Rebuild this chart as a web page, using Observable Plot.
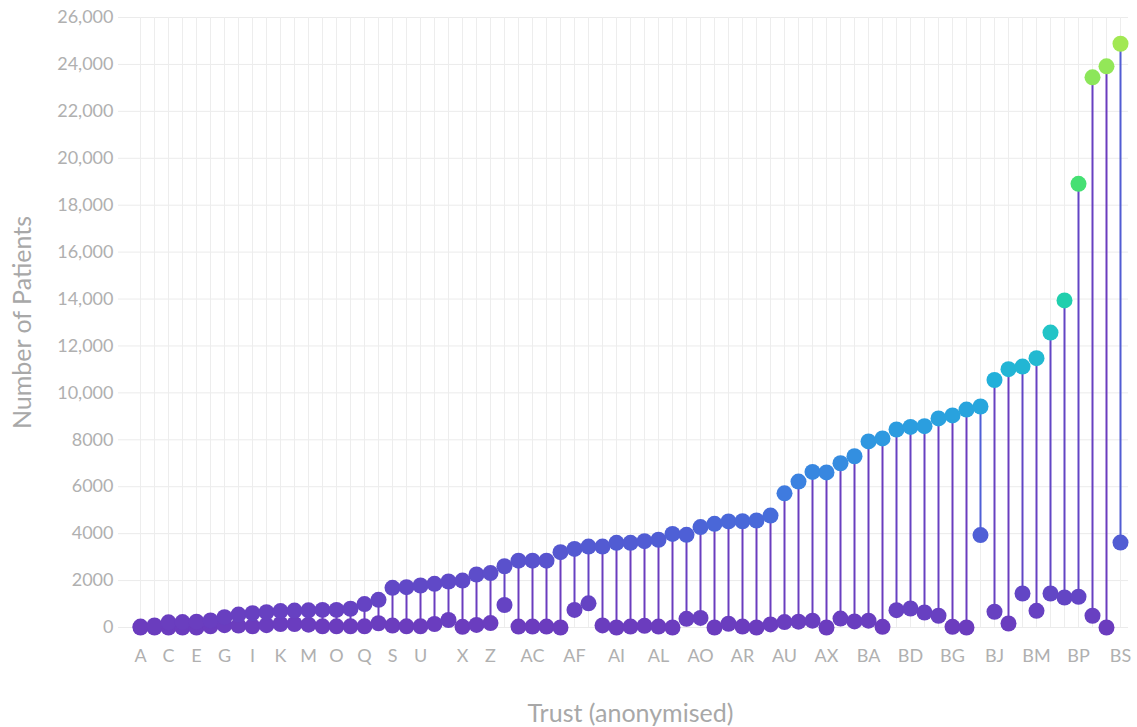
<!DOCTYPE html>
<html>
<head>
<meta charset="utf-8">
<script src="https://cdn.jsdelivr.net/npm/d3@7"></script>
<script src="https://cdn.jsdelivr.net/npm/@observablehq/plot@0.6"></script>
<style>
  html, body { margin: 0; padding: 0; background: #fff; }
  #chart { width: 1137px; height: 727px; }
  svg { font-family: "Lato", "Open Sans", sans-serif; }
</style>
</head>
<body>
<div id="chart"></div>
<script>
const trusts = ["A","B","C","D","E","F","G","H","I","J","K","L","M","N","O","P","Q","R","S","T","U","V","W","X","Y","Z",
  "AA","AB","AC","AD","AE","AF","AG","AH","AI","AJ","AK","AL","AM","AN","AO","AP","AQ","AR","AS","AT","AU","AV","AW","AX","AY","AZ",
  "BA","BB","BC","BD","BE","BF","BG","BH","BI","BJ","BK","BL","BM","BN","BO","BP","BQ","BR","BS"];

const highValues = [40, 90, 220, 230, 250, 300, 440, 550, 610, 650, 700, 720, 730, 750, 750, 800, 1000, 1180, 1690, 1720, 1790, 1860, 1960, 2000, 2260, 2320,
  2610, 2850, 2850, 2850, 3210, 3350, 3450, 3450, 3610, 3610, 3680, 3740, 3990, 3950, 4280, 4420, 4520, 4530, 4560, 4770, 5720, 6220, 6630, 6610, 7000, 7300,
  7930, 8060, 8440, 8550, 8580, 8910, 9040, 9290, 9420, 10550, 11010, 11120, 11480, 12570, 13940, 18910, 23450, 23920, 24880];

const lowValues = [0, 0, 0, 0, 0, 50, 100, 80, 50, 100, 150, 150, 120, 50, 50, 50, 50, 180, 80, 50, 50, 150, 320, 30, 110, 190,
  960, 40, 40, 40, 0, 750, 1030, 90, 0, 40, 70, 40, 0, 370, 410, 0, 160, 40, 0, 130, 230, 250, 290, 0, 380, 260,
  290, 30, 740, 810, 640, 500, 30, 0, 3940, 670, 170, 1450, 710, 1450, 1280, 1310, 500, 0, 3620];

const xTickLabels = ["A","C","E","G","I","K","M","O","Q","S","U","X","Z","AC","AF","AI","AL","AO","AR","AU","AX","BA","BD","BG","BJ","BM","BP","BS"];
const yTicks = [0, 2000, 4000, 6000, 8000, 10000, 12000, 14000, 16000, 18000, 20000, 22000, 24000, 26000];

const colorDomain = [0, 2000, 4000, 6000, 8000, 10500, 12500, 14000, 19000, 25000];
const colorRange = ["#6b3cbe", "#5f4ac8", "#4e60d6", "#3d7fe0", "#2e98e0", "#22b0da", "#22c3c8", "#20d0ac", "#46e072", "#a4e852"];

const rows = trusts.map((t, i) => ({trust: t, high: highValues[i], low: lowValues[i]}));

const fmt = d => d >= 10000 ? d3.format(",")(d) : String(d);
const grey = "#a8a8a8";

const chart = Plot.plot({
  width: 1137,
  height: 727,
  marginLeft: 118,
  marginRight: 9,
  marginTop: 17,
  marginBottom: 100,
  style: {fontFamily: "Lato, 'Open Sans', sans-serif", background: "#fff"},
  x: {type: "point", domain: trusts, padding: 1.071, align: 0.733, axis: null},
  y: {domain: [0, 26000], axis: null},
  color: {type: "linear", domain: colorDomain, range: colorRange, interpolate: "rgb"},
  marks: [
    Plot.ruleY(yTicks, {stroke: "#ebebeb", strokeWidth: 1}),
    Plot.ruleX(trusts, {stroke: "#ededed", strokeWidth: 1}),
    Plot.axisY({ticks: yTicks, tickSize: 0, tickPadding: 5, tickFormat: fmt, fontSize: 18, fill: "#b0b0b0", label: null}),
    Plot.axisX({ticks: xTickLabels, tickSize: 0, tickPadding: 22, fontSize: 18, fill: "#b0b0b0", label: null}),
    Plot.ruleX(rows, {x: "trust", y1: "low", y2: "high", stroke: "low", strokeWidth: 2}),
    Plot.dot(rows, {x: "trust", y: "low", r: 8, fill: "low", stroke: null}),
    Plot.dot(rows, {x: "trust", y: "high", r: 8, fill: "high", stroke: null}),
    Plot.text(["Trust (anonymised)"], {frameAnchor: "bottom", dy: 86, dx: 7, lineAnchor: "middle", fontSize: 25, fill: grey}),
    Plot.text(["Number of Patients"], {frameAnchor: "left", dx: -96, rotate: -90, textAnchor: "middle", lineAnchor: "middle", fontSize: 25, fill: grey})
  ]
});
document.getElementById("chart").appendChild(chart);
</script>
</body>
</html>
